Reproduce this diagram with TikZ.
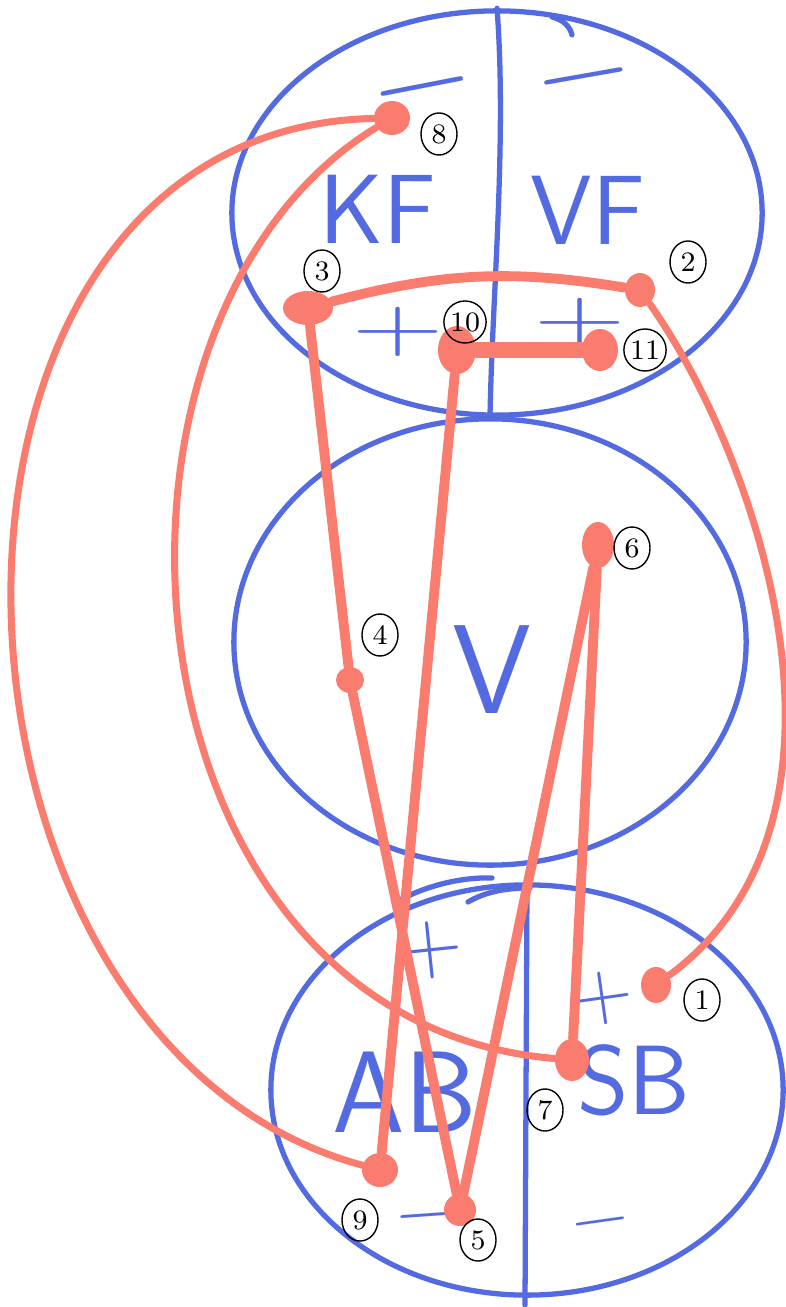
\documentclass[tikz,border=0pt]{standalone}
\usepackage{tikz}
\usetikzlibrary{shapes.geometric}
\definecolor{penblue}{RGB}{84,106,224}
\definecolor{penred}{RGB}{250,124,110}

\begin{document}
\begin{tikzpicture}[x=0.01cm, y=-0.01cm,
    zone/.style={draw=penblue, line width=1.5pt, ellipse, inner sep=0pt},
    word/.style={text=penblue, inner sep=0pt, font=\sffamily\fontsize{28}{28}\selectfont},
    sign/.style={text=penblue, inner sep=0pt},
    rule/.style={draw=penblue, line width=1.5pt, line cap=round},
    blob/.style={ellipse, fill=penred, inner sep=0pt},
    tag/.style={draw, ellipse, line width=0.4pt, inner sep=0pt,
                minimum width=0.36cm, minimum height=0.42cm,
                font=\fontsize{8}{8}\selectfont},
    wire/.style={draw=penred, line width=2.8pt, line cap=round},
    sweep/.style={draw=penred, line width=2pt, line cap=round}
  ]
  \useasboundingbox (0,0) rectangle (785,1307);
  % three regions
  \node[zone, minimum width=5.3cm, minimum height=4.04cm] (front) at (497,213) {};
  \node[zone, minimum width=5.12cm, minimum height=4.46cm] (mid) at (490,642) {};
  \node[zone, minimum width=5.12cm, minimum height=4.1cm] (back) at (527,1090) {};
  \coordinate (foot) at (525,1305);
  \draw[rule] (front.north) .. controls (507,140) and (492,300) .. (mid.north);
  \draw[rule] (back.north) -- (foot);
  \draw[rule] (552,17) .. controls (564,20) and (570,27) .. (572,35);
  \draw[rule] (400,900) .. controls (430,884) and (465,877) .. (492,878);
  \draw[rule] (468,902) .. controls (485,892) and (505,888) .. (530,888);

  \node[word] (kf) at (378,209) {KF};
  \node[word] (vf) at (588,210) {VF};
  \node[word, font=\sffamily\fontsize{36}{36}\selectfont] (v) at (492,670) {V};
  \node[word, font=\sffamily\fontsize{33}{33}\selectfont] (ab) at (405,1092) {AB};
  \node[word] (sb) at (634,1080) {SB};

  \node[sign, font=\fontsize{38}{38}\selectfont, rotate=11] (m1) at (425,102) {−};
  \node[sign, font=\fontsize{36}{36}\selectfont, rotate=10] (m2) at (586,91) {−};
  \node[sign, font=\fontsize{36}{36}\selectfont] (s1) at (398,332) {\scalebox{1}[0.62]{+}};
  \node[sign, font=\fontsize{36}{36}\selectfont] (s2) at (580,323) {\scalebox{1}[0.62]{+}};
  \node[sign, font=\fontsize{26}{26}\selectfont, rotate=6] (s3) at (430,950) {+};
  \node[sign, font=\fontsize{24}{24}\selectfont, rotate=8] (s4) at (603,998) {+};
  \node[sign, font=\fontsize{24}{24}\selectfont, rotate=4] (m3) at (428,1225) {−};
  \node[sign, font=\fontsize{22}{22}\selectfont, rotate=8] (m4) at (602,1230) {−};

  % poles
  \node[blob, minimum width=0.36cm, minimum height=0.34cm] (p8) at (392,118) {};
  \node[blob, minimum width=0.5cm, minimum height=0.34cm] (p3) at (308,308) {};
  \node[blob, minimum width=0.3cm, minimum height=0.34cm] (p2) at (640,290) {};
  \node[blob, minimum width=0.38cm, minimum height=0.48cm] (p10) at (457,350) {};
  \node[blob, minimum width=0.36cm, minimum height=0.42cm] (p11) at (600,350) {};
  \node[blob, minimum width=0.32cm, minimum height=0.46cm] (p6) at (598,545) {};
  \node[blob, minimum width=0.28cm, minimum height=0.26cm] (p4) at (350,680) {};
  \node[blob, minimum width=0.3cm, minimum height=0.36cm] (p1) at (656,985) {};
  \node[blob, minimum width=0.34cm, minimum height=0.42cm] (p7) at (572,1060) {};
  \node[blob, minimum width=0.36cm, minimum height=0.34cm] (p9) at (380,1170) {};
  \node[blob, minimum width=0.32cm, minimum height=0.32cm] (p5) at (460,1210) {};

  % wires
  \draw[wire] (p3) to[bend left=12] (p2);
  \draw[wire, line width=4.5pt] (p10) -- (p11);
  \draw[wire] (p3) -- (p4);
  \draw[wire] (p4) -- (p5);
  \draw[wire] (p10) -- (p9);
  \draw[wire] (p6) -- (p5);
  \draw[wire] (p6) -- (p7);
  \draw[sweep] (p2) .. controls (760,460) and (880,820) .. (p1);
  \draw[sweep] (p8) .. controls (-120,130) and (-96,1041) .. (p9);
  \draw[sweep] (p8) .. controls (60,320) and (113,1021) .. (p7);

  % numbers
  \node[tag] (t8) at (439,134) {8};
  \node[tag] (t3) at (322,271) {3};
  \node[tag] (t2) at (688,262) {2};
  \node[tag] (t10) at (465,322) {10};
  \node[tag] (t11) at (645,350) {11};
  \node[tag] (t6) at (632,548) {6};
  \node[tag] (t4) at (380,635) {4};
  \node[tag] (t1) at (702,1000) {1};
  \node[tag] (t7) at (545,1110) {7};
  \node[tag] (t9) at (360,1220) {9};
  \node[tag] (t5) at (478,1240) {5};
\end{tikzpicture}
\end{document}
